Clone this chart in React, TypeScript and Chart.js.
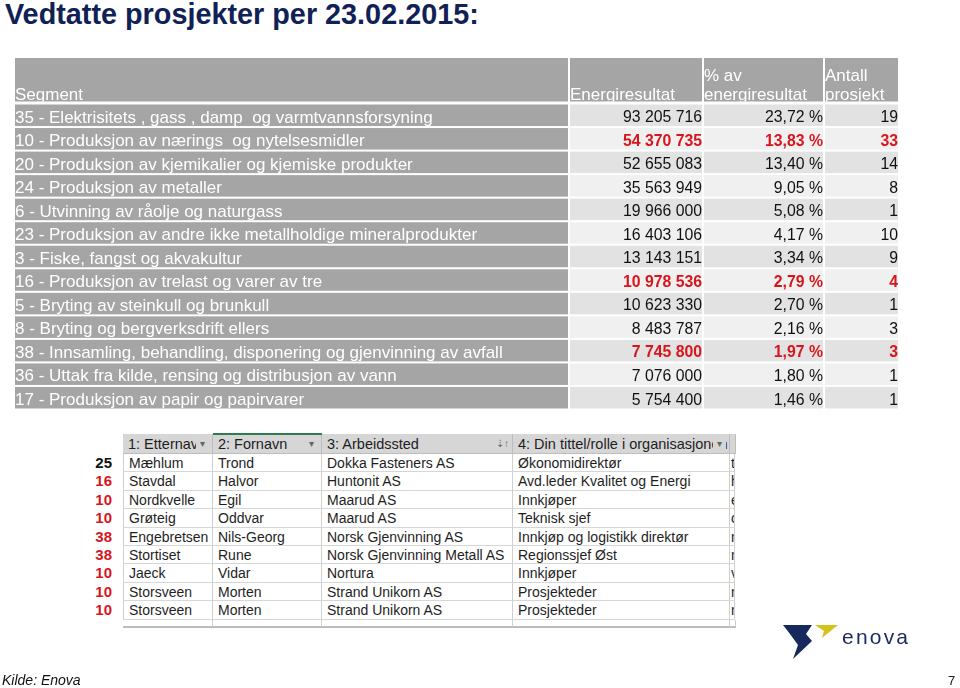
import React, { useEffect, useRef } from "react";
import { Chart, registerables } from "chart.js";

Chart.register(...registerables);

// ---------- data: top table ----------
const segments = [
  "35 - Elektrisitets , gass , damp  og varmtvannsforsyning",
  "10 - Produksjon av nærings  og nytelsesmidler",
  "20 - Produksjon av kjemikalier og kjemiske produkter",
  "24 - Produksjon av metaller",
  "6 - Utvinning av råolje og naturgass",
  "23 - Produksjon av andre ikke metallholdige mineralprodukter",
  "3 - Fiske, fangst og akvakultur",
  "16 - Produksjon av trelast og varer av tre",
  "5 - Bryting av steinkull og brunkull",
  "8 - Bryting og bergverksdrift ellers",
  "38 - Innsamling, behandling, disponering og gjenvinning av avfall",
  "36 - Uttak fra kilde, rensing og distribusjon av vann",
  "17 - Produksjon av papir og papirvarer",
];
const energiresultat = [
  93205716, 54370735, 52655083, 35563949, 19966000, 16403106, 13143151,
  10978536, 10623330, 8483787, 7745800, 7076000, 5754400,
];
const andelProsent = [
  23.72, 13.83, 13.4, 9.05, 5.08, 4.17, 3.34, 2.79, 2.7, 2.16, 1.97, 1.8, 1.46,
];
const antallProsjekt = [19, 33, 14, 8, 1, 10, 9, 4, 1, 3, 3, 1, 1];
const highlighted = [
  false, true, false, false, false, false, false, true, false, false, true, false, false,
];
const headerLabels = {
  segment: "Segment",
  energi: "Energiresultat",
  andel: ["% av", "energiresultat"],
  antall: ["Antall", "prosjekt"],
};

// ---------- data: spreadsheet excerpt ----------
const sheetHeaders = [
  "1: Etternavn",
  "2: Fornavn",
  "3: Arbeidssted",
  "4: Din tittel/rolle i organisasjonen",
  "5",
];
const segmentNr = [25, 16, 10, 10, 38, 38, 10, 10, 10];
const etternavn = ["Mæhlum", "Stavdal", "Nordkvelle", "Grøteig", "Engebretsen", "Stortiset", "Jaeck", "Storsveen", "Storsveen"];
const fornavn = ["Trond", "Halvor", "Egil", "Oddvar", "Nils-Georg", "Rune", "Vidar", "Morten", "Morten"];
const arbeidssted = [
  "Dokka Fasteners AS", "Huntonit AS", "Maarud AS", "Maarud AS", "Norsk Gjenvinning AS",
  "Norsk Gjenvinning Metall AS", "Nortura", "Strand Unikorn AS", "Strand Unikorn AS",
];
const tittel = [
  "Økonomidirektør", "Avd.leder Kvalitet og Energi", "Innkjøper", "Teknisk sjef",
  "Innkjøp og logistikk direktør", "Regionssjef Øst", "Innkjøper", "Prosjekteder", "Prosjekteder",
];
const kolonne5 = ["t", "h", "e", "o", "m", "m", "v", "m", "m"];

const fmtInt = (v: number) => String(v).replace(/\B(?=(\d{3})+(?!\d))/g, " ");
const fmtPct = (v: number) => v.toFixed(2).replace(".", ",") + " %";

const FONT = "'Liberation Sans', Arial, sans-serif";
const RED = "#d8151c";

const tablePlugin = {
  id: "tableCells",
  beforeDatasetsDraw(chart: any) {
    const { ctx, chartArea, scales } = chart;
    const yS = scales.y;
    const n = segments.length;
    const band = (chartArea.bottom - chartArea.top) / n;
    const cols: [number, number][] = [
      [15, 568],
      [570, 702],
      [704, 823],
      [825, 898],
    ];
    ctx.save();
    // header
    const hTop = 58;
    const hBot = 101.5;
    ctx.fillStyle = "#a5a5a5";
    cols.forEach(([l, r]) => ctx.fillRect(l, hTop, r - l, hBot - hTop));
    ctx.save();
    ctx.beginPath();
    ctx.rect(15, hTop, 883, hBot - hTop);
    ctx.clip();
    ctx.fillStyle = "#ffffff";
    ctx.font = `17px ${FONT}`;
    ctx.textAlign = "left";
    ctx.textBaseline = "alphabetic";
    ctx.fillText(headerLabels.segment, 15, 99.5);
    ctx.fillText(headerLabels.energi, 570, 99.5);
    ctx.fillText(headerLabels.andel[0], 704, 81);
    ctx.fillText(headerLabels.andel[1], 704, 99.5);
    ctx.fillText(headerLabels.antall[0], 825, 81);
    ctx.fillText(headerLabels.antall[1], 825, 99.5);
    ctx.restore();

    for (let i = 0; i < n; i++) {
      const c = yS.getPixelForValue(i);
      const top = c - band / 2 + 1;
      const bot = c + band / 2 - 1;
      // segment cell
      ctx.fillStyle = "#a5a5a5";
      ctx.fillRect(cols[0][0], top, cols[0][1] - cols[0][0], bot - top);
      ctx.fillStyle = i % 2 === 0 ? "#e2e2e2" : "#f0f0f0";
      for (let k = 1; k < 4; k++) ctx.fillRect(cols[k][0], top, cols[k][1] - cols[k][0], bot - top);

      ctx.save();
      ctx.beginPath();
      ctx.rect(cols[0][0], top, cols[0][1] - cols[0][0], bot - top);
      ctx.clip();
      ctx.fillStyle = "#ffffff";
      ctx.font = `17px ${FONT}`;
      ctx.textAlign = "left";
      ctx.fillText(segments[i], 15, bot - 3.5);
      ctx.restore();

      ctx.fillStyle = highlighted[i] ? RED : "#111111";
      ctx.font = `${highlighted[i] ? "bold " : ""}15.8px ${FONT}`;
      ctx.textAlign = "right";
      ctx.fillText(fmtInt(energiresultat[i]), 702, bot - 4);
      ctx.fillText(fmtPct(andelProsent[i]), 823, bot - 4);
      ctx.fillText(String(antallProsjekt[i]), 898, bot - 4);
    }
    ctx.restore();
  },
};

function SegmentTable() {
  const ref = useRef<HTMLCanvasElement | null>(null);
  useEffect(() => {
    if (!ref.current) return;
    const chart = new Chart(ref.current, {
      type: "bar",
      data: {
        labels: segments,
        datasets: [
          {
            label: "Energiresultat",
            data: energiresultat,
            backgroundColor: "rgba(0,0,0,0)",
            borderWidth: 0,
          },
        ],
      },
      options: {
        indexAxis: "y",
        animation: false,
        responsive: true,
        maintainAspectRatio: false,
        events: [],
        layout: { padding: { top: 103.5, bottom: 10.5, left: 15, right: 62 } },
        scales: {
          x: { display: false, beginAtZero: true },
          y: { display: false, offset: true },
        },
        plugins: { legend: { display: false }, tooltip: { enabled: false }, title: { display: false } },
      },
      plugins: [tablePlugin],
    } as any);
    return () => chart.destroy();
  }, []);
  return (
    <div style={{ position: "absolute", left: 0, top: 0, width: 960, height: 420 }}>
      <canvas ref={ref} />
    </div>
  );
}

function Sheet() {
  const edges = [123, 213, 322, 513, 730, 735];
  const hTop = 434;
  const hH = 20;
  const rH = 18.4;
  const rows = etternavn.map((_, i) => [etternavn[i], fornavn[i], arbeidssted[i], tittel[i], kolonne5[i]]);
  const cellBase: React.CSSProperties = {
    position: "absolute",
    boxSizing: "border-box",
    overflow: "hidden",
    whiteSpace: "nowrap",
    fontFamily: FONT,
    fontSize: 14,
    color: "#1e1e1e",
    paddingLeft: 5,
  };
  const out: React.ReactNode[] = [];
  sheetHeaders.forEach((h, c) => {
    const l = edges[c];
    const w = edges[c + 1] - l;
    out.push(
      <div
        key={"h" + c}
        style={{
          ...cellBase,
          left: l,
          top: hTop,
          width: w,
          height: hH,
          lineHeight: hH + "px",
          background: "#d6d6d6",
          borderRight: "1px solid #bdbdbd",
          borderBottom: "1px solid #bdbdbd",
          paddingRight: c < 4 ? 18 : 0,
          fontSize: 14.5,
        }}
      >
        {h}
      </div>
    );
    if (c < 4) {
      out.push(
        <div
          key={"hi" + c}
          style={{
            position: "absolute",
            left: edges[c + 1] - 17,
            top: hTop + 3,
            width: 13,
            height: 13,
            fontSize: 10,
            lineHeight: "13px",
            textAlign: "center",
            color: "#666",
            fontFamily: FONT,
            background: "#d6d6d6",
          }}
        >
          {c === 2 ? "⇣↑" : "▾"}
        </div>
      );
    }
  });
  out.push(
    <div key="green" style={{ position: "absolute", left: 213, top: hTop - 1, width: 109, height: 2, background: "#2f7d4f" }} />
  );
  rows.forEach((r, i) => {
    const top = hTop + hH + i * rH;
    r.forEach((txt, c) => {
      const l = edges[c];
      const w = edges[c + 1] - l;
      out.push(
        <div
          key={`r${i}c${c}`}
          style={{
            ...cellBase,
            left: l,
            top,
            width: w,
            height: rH,
            lineHeight: rH + "px",
            borderRight: "1px solid #cfcfcf",
            borderBottom: "1px solid #d6d6d6",
            borderLeft: c === 0 ? "1px solid #cfcfcf" : undefined,
            paddingLeft: c === 4 ? 1 : 5,
          }}
        >
          {txt}
        </div>
      );
    });
    out.push(
      <div
        key={"nr" + i}
        style={{
          position: "absolute",
          left: 84,
          top,
          width: 28,
          height: rH,
          lineHeight: rH + "px",
          textAlign: "right",
          fontFamily: FONT,
          fontWeight: "bold",
          fontSize: 15,
          color: i === 0 ? "#111" : RED,
        }}
      >
        {segmentNr[i]}
      </div>
    );
  });
  // empty final row
  const lastTop = hTop + hH + rows.length * rH;
  for (let c = 0; c < 5; c++) {
    out.push(
      <div
        key={"e" + c}
        style={{
          ...cellBase,
          left: edges[c],
          top: lastTop,
          width: edges[c + 1] - edges[c],
          height: 8,
          borderRight: "1px solid #cfcfcf",
          borderBottom: "2px solid #bcbcbc",
        }}
      />
    );
  }
  return <>{out}</>;
}

function Logo() {
  return (
    <svg style={{ position: "absolute", left: 0, top: 0 }} width={960} height={688} pointerEvents="none">
      <polygon points="783,625 812,625 806,634 812,641 793,659 798,645 790,634" fill="#17285c" />
      <polygon points="815,625 838,625 822,638 824,631" fill="#d6c21c" />
      <text x={842} y={644} fontFamily={FONT} fontSize={21} letterSpacing={2.2} fill="#1b2a5c">
        enova
      </text>
    </svg>
  );
}

export default function App() {
  return (
    <div style={{ position: "absolute", left: 0, top: 0, width: 960, height: 688, background: "#fff", overflow: "hidden" }}>
      <div
        style={{
          position: "absolute",
          left: 5,
          top: -3,
          fontFamily: FONT,
          fontWeight: "bold",
          fontSize: 28.8,
          color: "#102156",
          whiteSpace: "nowrap",
          lineHeight: "34px",
        }}
      >
        Vedtatte prosjekter per 23.02.2015:
      </div>
      <SegmentTable />
      <Sheet />
      <Logo />
      <div
        style={{
          position: "absolute",
          left: 2,
          top: 672,
          fontFamily: FONT,
          fontStyle: "italic",
          fontSize: 14,
          color: "#111",
          lineHeight: "17px",
        }}
      >
        Kilde: Enova
      </div>
      <div style={{ position: "absolute", left: 948, top: 673, fontFamily: FONT, fontSize: 13, color: "#222", lineHeight: "16px" }}>
        7
      </div>
    </div>
  );
}
